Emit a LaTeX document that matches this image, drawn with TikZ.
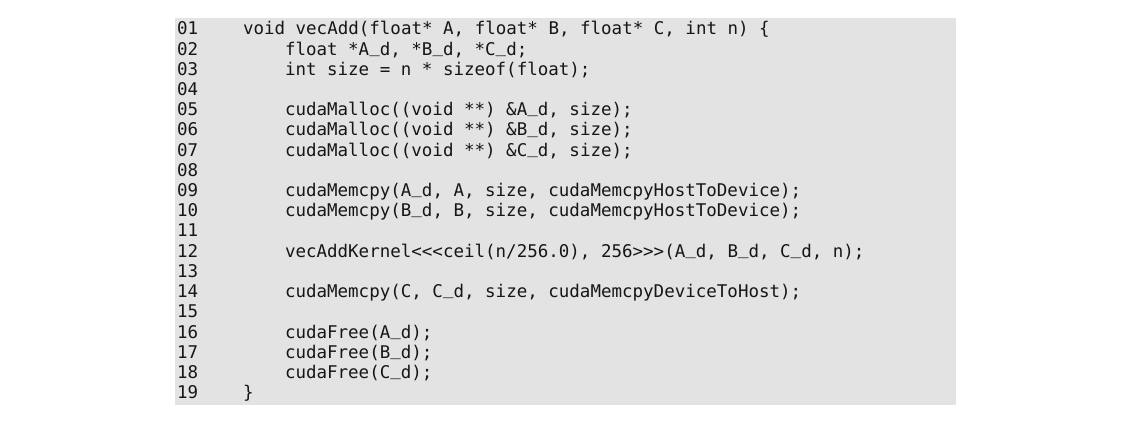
\documentclass[tikz,border=0pt]{standalone}
\usepackage{fontspec}
\setmonofont{DejaVu Sans Mono}
\definecolor{codebg}{HTML}{E3E3E3}
\definecolor{codefg}{HTML}{161616}
\newcommand{\us}{\raisebox{0.17em}{\_}}
\tikzset{
  codeline/.style={anchor=base west, inner sep=0pt, outer sep=0pt, text=codefg,
    font=\fontsize{17.5pt}{20pt}\selectfont\ttfamily},
}
\begin{document}
\begin{tikzpicture}[x=1pt,y=-1pt]
\useasboundingbox (0,0) rectangle (1128,422);
\fill[codebg] (175,18) rectangle (956,405);
\foreach \i [evaluate=\i as \yy using 35+(\i-1)*20.2] in {1,...,19}{
  \node[codeline] (n\i) at (177,\yy) {\ifnum\i<10 0\fi\i};
}
\def\lx{243}
\def\ix{285}
\def\ly#1{35+(#1-1)*20.2}
\node[codeline] (c1) at (\lx,{\ly{1}}) {void vecAdd(float* A, float* B, float* C, int n) \{};
\node[codeline] (c2) at (\ix,{\ly{2}}) {float *A\us d, *B\us d, *C\us d;};
\node[codeline] (c3) at (\ix,{\ly{3}}) {int size = n * sizeof(float);};
\node[codeline] (c5) at (\ix,{\ly{5}}) {cudaMalloc((void **) \&A\us d, size);};
\node[codeline] (c6) at (\ix,{\ly{6}}) {cudaMalloc((void **) \&B\us d, size);};
\node[codeline] (c7) at (\ix,{\ly{7}}) {cudaMalloc((void **) \&C\us d, size);};
\node[codeline] (c9) at (\ix,{\ly{9}}) {cudaMemcpy(A\us d, A, size, cudaMemcpyHostToDevice);};
\node[codeline] (c10) at (\ix,{\ly{10}}) {cudaMemcpy(B\us d, B, size, cudaMemcpyHostToDevice);};
\node[codeline] (c12) at (\ix,{\ly{12}}) {vecAddKernel<{}<{}<ceil(n/256.0), 256>{}>{}>(A\us d, B\us d, C\us d, n);};
\node[codeline] (c14) at (\ix,{\ly{14}}) {cudaMemcpy(C, C\us d, size, cudaMemcpyDeviceToHost);};
\node[codeline] (c16) at (\ix,{\ly{16}}) {cudaFree(A\us d);};
\node[codeline] (c17) at (\ix,{\ly{17}}) {cudaFree(B\us d);};
\node[codeline] (c18) at (\ix,{\ly{18}}) {cudaFree(C\us d);};
\node[codeline] (c19) at (\lx,{\ly{19}}) {\}};
\end{tikzpicture}
\end{document}
